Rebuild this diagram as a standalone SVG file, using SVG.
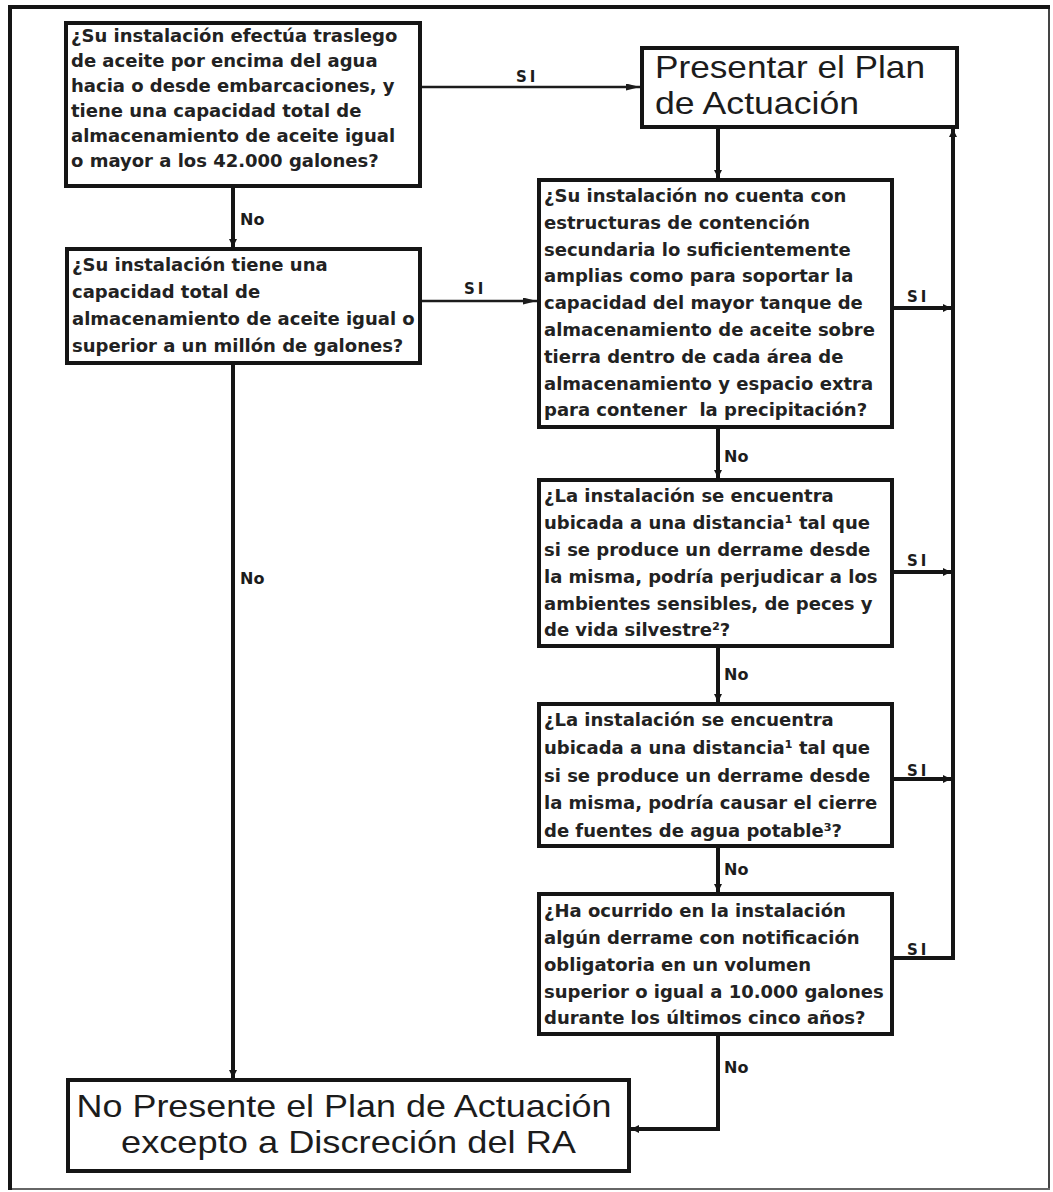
<svg xmlns="http://www.w3.org/2000/svg" width="1053" height="1192" viewBox="0 0 1053 1192">
<style>
.box{fill:#fff;stroke:#151515;stroke-width:4}
.q{font-family:"DejaVu Sans","Liberation Sans",sans-serif;font-weight:bold;font-size:18px;fill:#222}
.big{font-family:"Liberation Sans",Arial,sans-serif;font-size:32px;fill:#1c1c1c}
.lbl{font-family:"DejaVu Sans","Liberation Sans",sans-serif;font-weight:bold;font-size:16px;fill:#1c1c1c}
.si{font-family:"DejaVu Sans","Liberation Sans",sans-serif;font-weight:bold;font-size:15px;fill:#1c1c1c;letter-spacing:3px}
.thin{fill:none;stroke:#1c1c1c;stroke-width:2.5}
.thick{fill:none;stroke:#151515;stroke-width:4}
</style>
<defs>
<marker id="aThin" markerUnits="userSpaceOnUse" markerWidth="14" markerHeight="7" refX="14" refY="3.5" orient="auto">
<path d="M0,0 L14,3.5 L0,7 z" fill="#1c1c1c"/>
</marker>
<marker id="aThick" markerUnits="userSpaceOnUse" markerWidth="8" markerHeight="8" refX="8" refY="4" orient="auto">
<path d="M0,0 L8,4 L0,8 z" fill="#151515"/>
</marker>
</defs>
<rect x="0" y="0" width="1053" height="1192" fill="#fff"/>
<g id="frame">
<line x1="1049" y1="7" x2="1049" y2="1189" stroke="#444" stroke-width="2"/>
<line x1="10" y1="1189" x2="1050" y2="1189" stroke="#666" stroke-width="2"/>
<line x1="8" y1="7" x2="1050" y2="7" stroke="#151515" stroke-width="4"/>
<line x1="10" y1="5" x2="10" y2="1190" stroke="#151515" stroke-width="4"/>
</g>
<g id="connectors">
<line class="thin" x1="422" y1="87" x2="640" y2="87" marker-end="url(#aThin)"/>
<text class="si" x="516" y="82">SI</text>
<line class="thick" x1="233" y1="188" x2="233" y2="247" marker-end="url(#aThick)"/>
<text class="lbl" x="240" y="225">No</text>
<line class="thin" x1="422" y1="301" x2="537" y2="301" marker-end="url(#aThin)"/>
<text class="si" x="464" y="294">SI</text>
<line class="thick" x1="233" y1="365" x2="233" y2="1078" marker-end="url(#aThick)"/>
<text class="lbl" x="240" y="584">No</text>
<line class="thick" x1="718" y1="129" x2="718" y2="178" marker-end="url(#aThick)"/>
<line class="thick" x1="718" y1="429" x2="718" y2="478" marker-end="url(#aThick)"/>
<text class="lbl" x="724" y="462">No</text>
<line class="thick" x1="718" y1="648" x2="718" y2="702" marker-end="url(#aThick)"/>
<text class="lbl" x="724" y="680">No</text>
<line class="thick" x1="718" y1="848" x2="718" y2="892" marker-end="url(#aThick)"/>
<text class="lbl" x="724" y="875">No</text>
<path class="thick" d="M718,1036 V1129 H631" marker-end="url(#aThick)"/>
<text class="lbl" x="724" y="1073">No</text>
<line class="thick" x1="894" y1="308" x2="951" y2="308" marker-end="url(#aThick)"/>
<text class="si" x="907" y="302">SI</text>
<line class="thick" x1="894" y1="572" x2="951" y2="572" marker-end="url(#aThick)"/>
<text class="si" x="907" y="566">SI</text>
<line class="thick" x1="894" y1="779" x2="951" y2="779" marker-end="url(#aThick)"/>
<text class="si" x="907" y="776">SI</text>
<path class="thick" d="M894,958 H953 V129" marker-end="url(#aThick)"/>
<text class="si" x="907" y="955">SI</text>
</g>
<g id="n1">
<rect class="box" x="66" y="23" width="354" height="163"/>
<text class="q">
<tspan x="71" y="42">¿Su instalación efectúa traslego</tspan>
<tspan x="71" y="67">de aceite por encima del agua</tspan>
<tspan x="71" y="92">hacia o desde embarcaciones, y</tspan>
<tspan x="71" y="117">tiene una capacidad total de</tspan>
<tspan x="71" y="142">almacenamiento de aceite igual</tspan>
<tspan x="71" y="167">o mayor a los 42.000 galones?</tspan>
</text>
</g>
<g id="n2">
<rect class="box" x="642" y="48" width="315" height="79"/>
<text class="big">
<tspan x="655" y="78" textLength="270" lengthAdjust="spacingAndGlyphs">Presentar el Plan</tspan>
<tspan x="655" y="114" textLength="204" lengthAdjust="spacingAndGlyphs">de Actuación</tspan>
</text>
</g>
<g id="n3">
<rect class="box" x="67" y="249" width="353" height="114"/>
<text class="q">
<tspan x="72" y="271">¿Su instalación tiene una</tspan>
<tspan x="72" y="298">capacidad total de</tspan>
<tspan x="72" y="325">almacenamiento de aceite igual o</tspan>
<tspan x="72" y="352">superior a un millón de galones?</tspan>
</text>
</g>
<g id="n4">
<rect class="box" x="539" y="180" width="353" height="247"/>
<text class="q">
<tspan x="544" y="202">¿Su instalación no cuenta con</tspan>
<tspan x="544" y="229">estructuras de contención</tspan>
<tspan x="544" y="256">secundaria lo suficientemente</tspan>
<tspan x="544" y="282">amplias como para soportar la</tspan>
<tspan x="544" y="309">capacidad del mayor tanque de</tspan>
<tspan x="544" y="336">almacenamiento de aceite sobre</tspan>
<tspan x="544" y="363">tierra dentro de cada área de</tspan>
<tspan x="544" y="390">almacenamiento y espacio extra</tspan>
<tspan x="544" y="416">para contener&#160; la precipitación?</tspan>
</text>
</g>
<g id="n5">
<rect class="box" x="539" y="480" width="353" height="166"/>
<text class="q">
<tspan x="544" y="502">¿La instalación se encuentra</tspan>
<tspan x="544" y="529">ubicada a una distancia¹ tal que</tspan>
<tspan x="544" y="556">si se produce un derrame desde</tspan>
<tspan x="544" y="583">la misma, podría perjudicar a los</tspan>
<tspan x="544" y="610">ambientes sensibles, de peces y</tspan>
<tspan x="544" y="636">de vida silvestre²?</tspan>
</text>
</g>
<g id="n6">
<rect class="box" x="539" y="704" width="353" height="142"/>
<text class="q">
<tspan x="544" y="726">¿La instalación se encuentra</tspan>
<tspan x="544" y="754">ubicada a una distancia¹ tal que</tspan>
<tspan x="544" y="782">si se produce un derrame desde</tspan>
<tspan x="544" y="809">la misma, podría causar el cierre</tspan>
<tspan x="544" y="837">de fuentes de agua potable³?</tspan>
</text>
</g>
<g id="n7">
<rect class="box" x="539" y="894" width="353" height="140"/>
<text class="q">
<tspan x="544" y="917">¿Ha ocurrido en la instalación</tspan>
<tspan x="544" y="944">algún derrame con notificación</tspan>
<tspan x="544" y="971">obligatoria en un volumen</tspan>
<tspan x="544" y="998">superior o igual a 10.000 galones</tspan>
<tspan x="544" y="1024">durante los últimos cinco años?</tspan>
</text>
</g>
<g id="n8">
<rect class="box" x="68" y="1080" width="561" height="91"/>
<text class="big" text-anchor="middle">
<tspan x="348.5" y="1117" textLength="535" lengthAdjust="spacingAndGlyphs">No Presente el Plan de Actuación</tspan>
<tspan x="348.5" y="1153" textLength="455" lengthAdjust="spacingAndGlyphs">excepto a Discreción del RA</tspan>
</text>
</g>
</svg>
